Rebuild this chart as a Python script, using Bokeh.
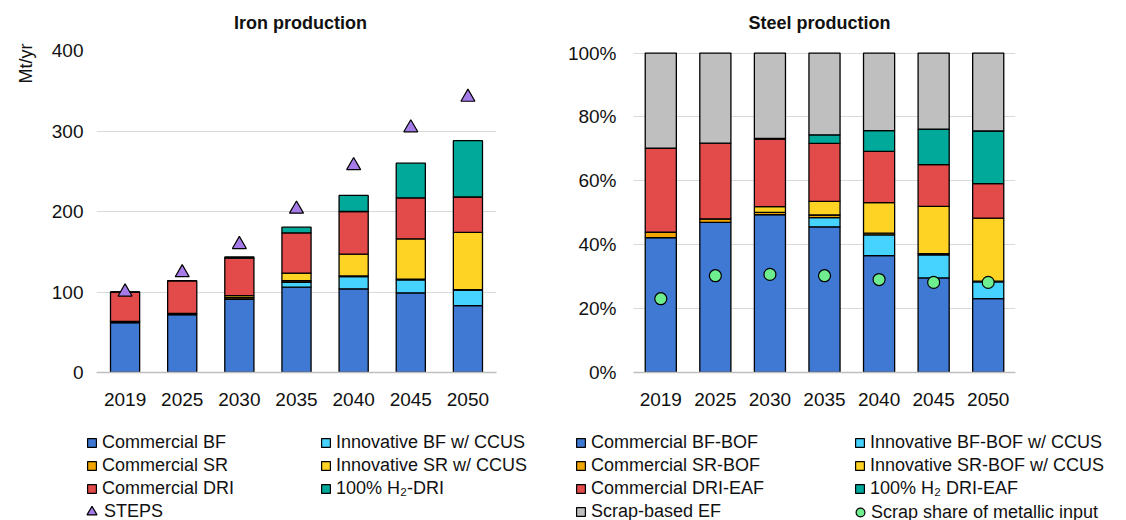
from bokeh.plotting import figure
from bokeh.models import (Legend, LegendItem, Title, Label, PrintfTickFormatter,
                          ColumnDataSource, FixedTicker)
from bokeh.layouts import row, column
from bokeh.embed import file_html
from bokeh.resources import INLINE

# ---------------- data ----------------
years = ["2019", "2025", "2030", "2035", "2040", "2045", "2050"]

# Iron production (Mt/yr)
iron_comm_bf = [62, 72, 91, 106, 104, 99, 83]
iron_innov_bf = [0, 0, 0, 6, 15, 16, 19.5]
iron_comm_sr = [1.5, 1.5, 2, 2, 1, 1, 0.5]
iron_innov_sr = [0, 0, 2.5, 9.5, 27, 50, 71]
iron_comm_dri = [36.5, 40.5, 46.5, 50, 53, 51, 44]
iron_h2_dri = [0, 0, 1.5, 7, 20, 43, 70]
iron_steps = [100, 124, 159, 203, 257, 304, 342]

# Steel production (% share)
steel_comm_bf = [42.2, 47.0, 49.4, 45.6, 36.6, 29.6, 23.1]
steel_innov_bf = [0, 0, 0, 2.9, 6.5, 7.2, 5.3]
steel_comm_sr = [1.7, 1.1, 0.7, 0.8, 0.5, 0.4, 0.2]
steel_innov_sr = [0, 0, 1.8, 4.3, 9.6, 14.8, 19.7]
steel_comm_dri = [26.3, 23.7, 21.2, 18.1, 16.0, 13.1, 10.8]
steel_h2_dri = [0, 0, 0.2, 2.7, 6.5, 11.1, 16.5]
steel_scrap_ef = [29.8, 28.2, 26.7, 25.6, 24.3, 23.8, 24.4]
steel_scrap_share = [23.1, 30.3, 30.7, 30.3, 29.1, 28.2, 28.2]

titles = ["Iron production", "Steel production"]
iron_unit = "Mt/yr"
iron_labels = ["Commercial BF", "Innovative BF w/ CCUS", "Commercial SR",
               "Innovative SR w/ CCUS", "Commercial DRI", "100% H\u2082-DRI"]
iron_marker_label = "STEPS"
steel_labels = ["Commercial BF-BOF", "Innovative BF-BOF w/ CCUS", "Commercial SR-BOF",
                "Innovative SR-BOF w/ CCUS", "Commercial DRI-EAF", "100% H\u2082 DRI-EAF",
                "Scrap-based EF"]
steel_marker_label = "Scrap share of metallic input"

# ---------------- styles ----------------
FONT = "Liberation Sans"
BLUE = "#3F79D3"
LBLUE = "#47D3FF"
ORANGE = "#F0A500"
YELLOW = "#FFD324"
RED = "#E24B4A"
TEAL = "#00A99A"
GREY = "#BFBFBF"
PURPLE = "#A57BE8"
GREEN = "#6FEE8F"
TXT = "#111111"

iron_colors = [BLUE, LBLUE, ORANGE, YELLOW, RED, TEAL]
steel_colors = [BLUE, LBLUE, ORANGE, YELLOW, RED, TEAL, GREY]


def blank(p):
    p.axis.visible = False
    p.grid.visible = False
    p.outline_line_color = None
    p.background_fill_color = None
    p.border_fill_color = None


def style(p, ticks, label_standoff_y):
    p.outline_line_color = None
    p.xgrid.grid_line_color = None
    p.ygrid.grid_line_color = "#D9D9D9"
    p.ygrid.grid_line_width = 1.2
    p.yaxis.ticker = FixedTicker(ticks=ticks)
    p.yaxis.axis_line_color = None
    p.yaxis.major_label_standoff = label_standoff_y
    p.xaxis.axis_line_color = "#BFBFBF"
    p.xaxis.axis_line_width = 1.5
    p.xaxis.major_label_standoff = 20
    for ax in (p.xaxis, p.yaxis):
        ax.major_tick_line_color = None
        ax.minor_tick_line_color = None
        ax.major_tick_out = 0
        ax.major_tick_in = 0
        ax.minor_tick_out = 0
        ax.major_label_text_font = FONT
        ax.major_label_text_font_size = "19px"
        ax.major_label_text_color = TXT
    p.background_fill_color = None
    p.border_fill_color = None


# ---------------- title strip ----------------
tf = figure(width=1126, height=36, x_range=(0, 1126), y_range=(0, 36),
            output_backend="svg", toolbar_location=None,
            min_border_left=0, min_border_right=0, min_border_top=0, min_border_bottom=0)
blank(tf)
for t, cx in zip(titles, [300, 819]):
    tf.add_layout(Label(x=cx, y=14, x_units="screen", y_units="screen", text=t,
                        text_align="center", text_baseline="middle", text_font=FONT,
                        text_font_size="18px", text_font_style="bold", text_color=TXT))

# ---------------- iron chart ----------------
iron_keys = ["comm_bf", "innov_bf", "comm_sr", "innov_sr", "comm_dri", "h2_dri"]
src1 = ColumnDataSource(dict(year=years, comm_bf=iron_comm_bf, innov_bf=iron_innov_bf,
                             comm_sr=iron_comm_sr, innov_sr=iron_innov_sr,
                             comm_dri=iron_comm_dri, h2_dri=iron_h2_dri,
                             steps=iron_steps))

p1 = figure(x_range=years, y_range=(0, 400), width=556, height=378,
            output_backend="svg", toolbar_location=None,
            min_border_left=96, min_border_right=60, min_border_top=14,
            min_border_bottom=42)
style(p1, [0, 100, 200, 300, 400], 13)

p1.vbar_stack(iron_keys, x="year", width=0.51, source=src1,
              fill_color=iron_colors, line_color="black", line_width=1.3)
p1.scatter(x="year", y="steps", source=src1, marker="triangle", size=14,
           fill_color=PURPLE, line_color="black", line_width=1.2)

p1.add_layout(Title(text=iron_unit, align="right", text_font=FONT, text_font_size="18px",
                    text_font_style="normal", text_color=TXT, standoff=26,
                    offset=-7), "left")

# ---------------- steel chart ----------------
steel_keys = ["comm_bf", "innov_bf", "comm_sr", "innov_sr", "comm_dri", "h2_dri", "scrap_ef"]
src2 = ColumnDataSource(dict(year=years, comm_bf=steel_comm_bf, innov_bf=steel_innov_bf,
                             comm_sr=steel_comm_sr, innov_sr=steel_innov_sr,
                             comm_dri=steel_comm_dri, h2_dri=steel_h2_dri,
                             scrap_ef=steel_scrap_ef, share=steel_scrap_share))

p2 = figure(x_range=years, y_range=(0, 100.8), width=570, height=378,
            output_backend="svg", toolbar_location=None,
            min_border_left=77, min_border_right=111, min_border_top=14,
            min_border_bottom=42)
style(p2, [0, 20, 40, 60, 80, 100], 17)
p2.yaxis.formatter = PrintfTickFormatter(format="%d%%")

p2.vbar_stack(steel_keys, x="year", width=0.57, source=src2,
              fill_color=steel_colors, line_color="black", line_width=1.3)
p2.scatter(x="year", y="share", source=src2, marker="circle", size=12,
           fill_color=GREEN, line_color="black", line_width=1.2)

# ---------------- legend strip (hidden proxy renderers carry the styles) ----------------
lf = figure(width=1126, height=106, x_range=years, y_range=(0, 1),
            output_backend="svg", toolbar_location=None,
            min_border_left=0, min_border_right=0, min_border_top=0, min_border_bottom=0)
blank(lf)


def bar_proxies(keys, colors, src):
    return [lf.vbar(x="year", top=k, width=0.5, source=src, fill_color=c,
                    line_color="black", line_width=1.2, visible=False)
            for k, c in zip(keys, colors)]


def marker_proxy(src, marker, mcolor, mfield):
    return lf.scatter(x="year", y=mfield, source=src, marker=marker, size=12,
                      fill_color=mcolor, line_color="black", line_width=1.2,
                      visible=False)


def make_legend(rends, labels, loc, label_width, glyph=11, standoff=5):
    items = [LegendItem(label=lab, renderers=[r]) for lab, r in zip(labels, rends)]
    return Legend(items=items, location=loc, orientation="horizontal", ncols=2,
                  glyph_width=glyph, glyph_height=glyph, label_standoff=standoff,
                  label_width=label_width, label_height=20, spacing=2,
                  padding=0, margin=0, border_line_color=None,
                  background_fill_alpha=0, inactive_fill_alpha=0,
                  label_text_font=FONT, label_text_font_size="18px",
                  label_text_color=TXT)


rb1 = bar_proxies(iron_keys, iron_colors, src1)
rm1 = marker_proxy(src1, "triangle", PURPLE, "steps")
rb2 = bar_proxies(steel_keys, steel_colors, src2)
rm2 = marker_proxy(src2, "circle", GREEN, "share")

lf.add_layout(make_legend(rb1, iron_labels, (86, 21), 216), "center")
lf.add_layout(make_legend([rm1], [iron_marker_label], (79, -4), 100, glyph=25,
                          standoff=0), "center")
lf.add_layout(make_legend(rb2, steel_labels, (575, -2), 261), "center")
lf.add_layout(make_legend([rm2], [steel_marker_label], (849, -3), 250, glyph=22,
                          standoff=0), "center")

layout = column(tf, row(p1, p2), lf)
open("out.html", "w").write(file_html(layout, INLINE))
